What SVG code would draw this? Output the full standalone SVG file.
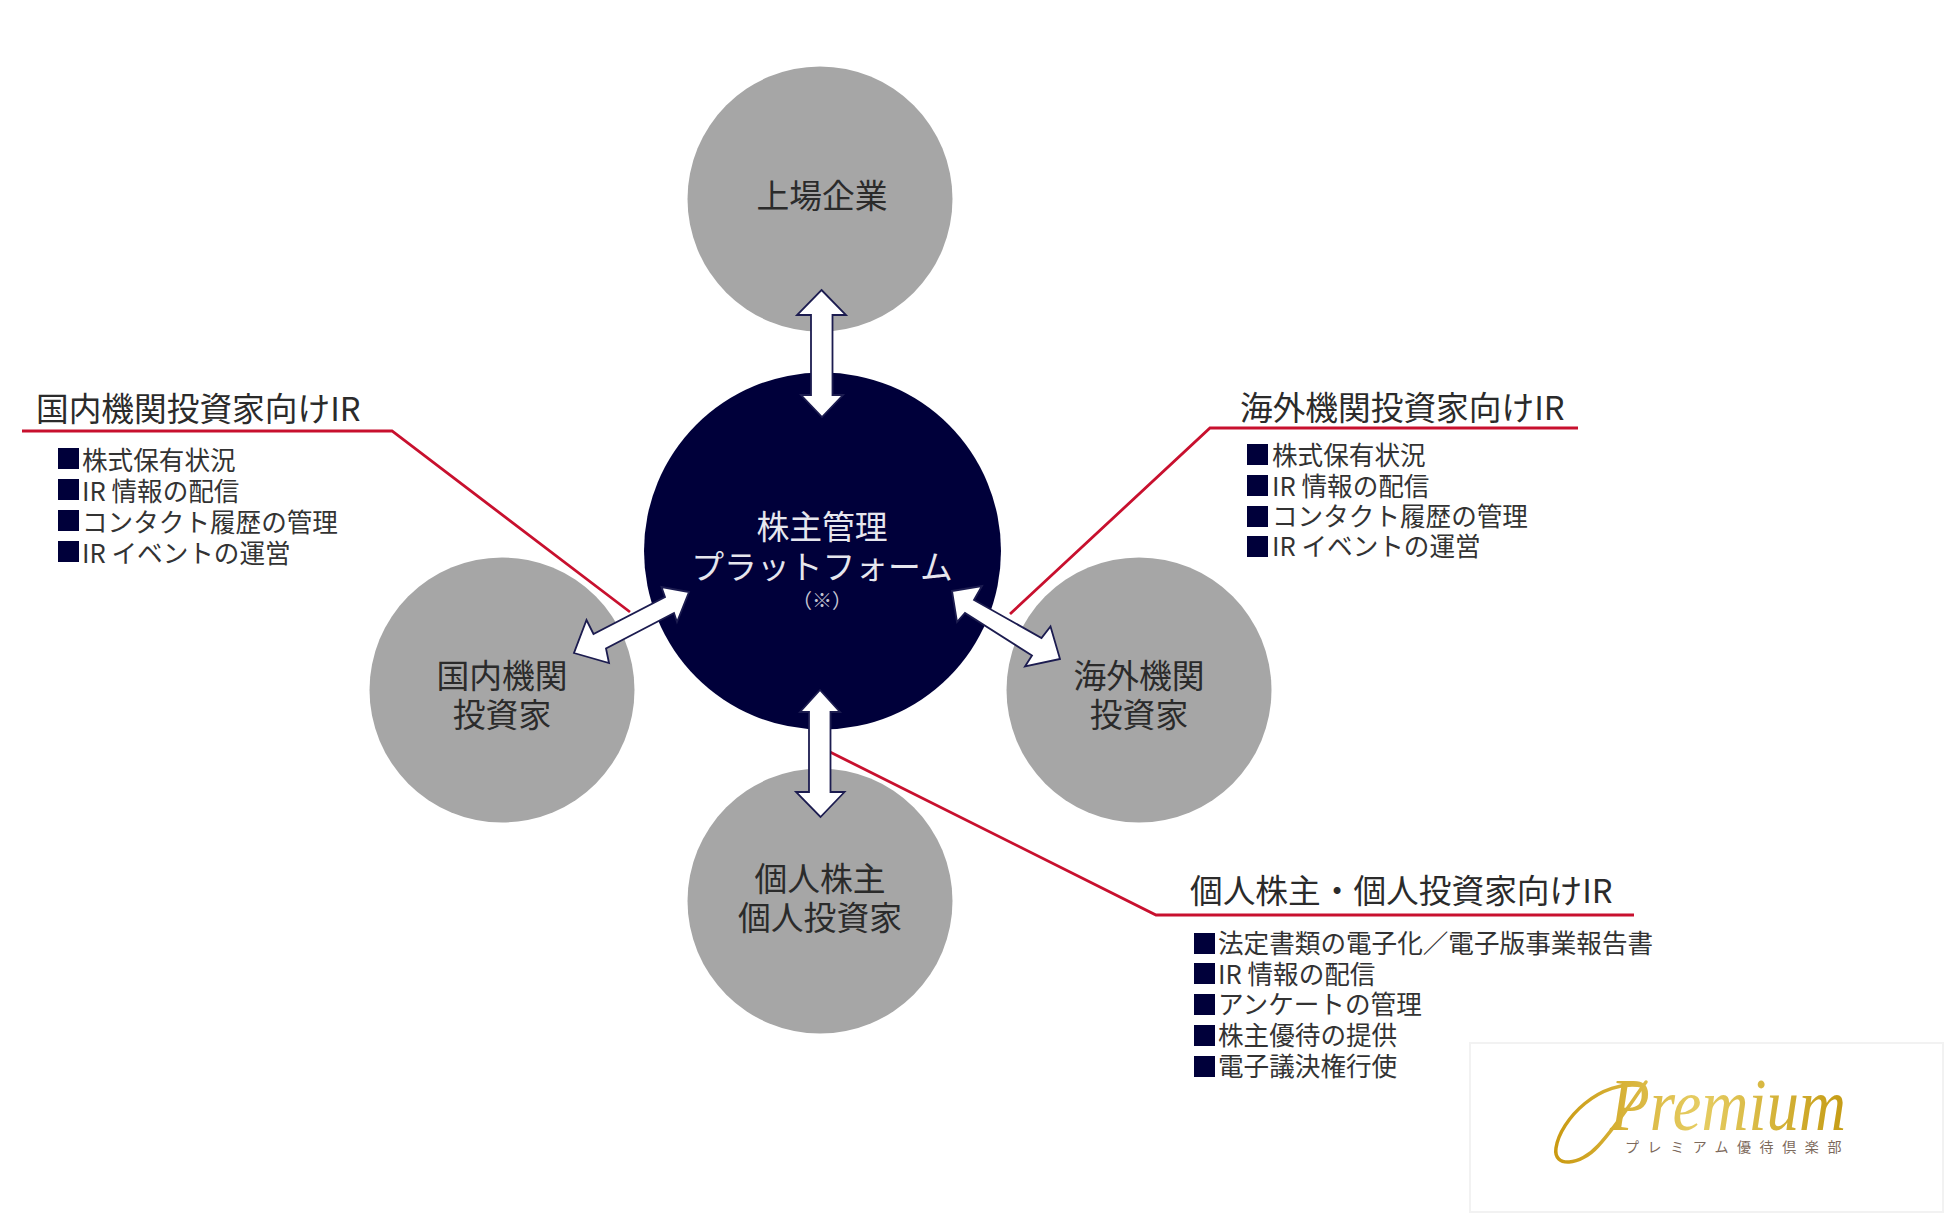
<svg xmlns="http://www.w3.org/2000/svg" width="1950" height="1218" viewBox="0 0 1950 1218">
<style>
text{font-family:"Noto Sans CJK JP","Noto Sans",sans-serif;fill:#2b2b2b}
.sat{fill:#a6a6a6}
.hub{fill:#00003a}
.lab{font-size:32.800px;text-anchor:middle}
.hubt{fill:#e6e6ee}
.note{font-size:20px;text-anchor:middle;fill:#c4c4d2}
.head{font-size:32.700px}
.item{font-size:25.600px;fill:#333}
.sq{fill:#00003a}
.red{fill:none;stroke:#c8102e;stroke-width:2.800}
.arr{fill:#fff;stroke:#1c1c50;stroke-width:1.800;stroke-linejoin:miter}
.brand{font-family:"Liberation Serif",serif;font-style:italic;fill:url(#gold)}
.sub{font-size:14px;letter-spacing:8.600px;fill:#7d6a5c}
</style>
<defs>
<linearGradient id="gold" x1="1550" y1="0" x2="1850" y2="0" gradientUnits="userSpaceOnUse">
<stop offset="0" stop-color="#c9980f"/><stop offset=".5" stop-color="#e6cd63"/><stop offset="1" stop-color="#c49a12"/>
</linearGradient>
</defs>
<rect width="1950" height="1218" fill="#fff"/>
<g id="node-listed"><circle class="sat" cx="820" cy="199" r="132.500"/><text class="lab" x="822" y="208">上場企業</text></g>
<g id="node-domestic"><circle class="sat" cx="502" cy="690" r="132.500"/><text class="lab" x="502" y="688">国内機関</text><text class="lab" x="502" y="727">投資家</text></g>
<g id="node-overseas"><circle class="sat" cx="1139" cy="690" r="132.500"/><text class="lab" x="1139" y="688">海外機関</text><text class="lab" x="1139" y="727">投資家</text></g>
<g id="node-individual"><circle class="sat" cx="820" cy="901" r="132.500"/><text class="lab" x="820" y="891">個人株主</text><text class="lab" x="820" y="930">個人投資家</text></g>
<g id="connectors">
<polyline class="red" points="22,431 392,431 630,612"/>
<polyline class="red" points="1578,428 1210,428 1010,614"/>
<polyline class="red" points="830,752 1156,915 1634,915"/>
</g>
<g id="node-hub"><circle class="hub" cx="822.500" cy="551" r="178.500"/>
<text class="lab hubt" x="822" y="539">株主管理</text><text class="lab hubt" x="822" y="579">プラットフォーム</text><text class="note" x="822" y="608">（※）</text></g>
<g id="arrows">
<polygon class="arr" points="821.500,290 846,315 832.500,315 832.500,395 843,395 822,417 801,395 811,395 811,315 797,315"/>
<polygon class="arr" points="820,690 840,712 830.500,712 830.500,792 844.500,792 820.500,817 796,792 809,792 809,712 800,712"/>
<polygon class="arr" points="689,592 677,622 674,613 606,648.500 609,663 574,653 586.500,620 593.500,634 665,597 661.500,587"/>
<polygon class="arr" points="952,591 982,586 974,600 1041.500,638 1050.500,626.500 1060,659 1025,666.500 1032,655.500 965,613 957,622"/>
</g>
<g id="list-domestic">
<text class="head" x="36" y="421">国内機関投資家向けIR</text>
<rect class="sq" x="58" y="448" width="21" height="21"/><rect class="sq" x="58" y="479" width="21" height="21"/><rect class="sq" x="58" y="510" width="21" height="21"/><rect class="sq" x="58" y="541" width="21" height="21"/>
<text class="item" x="82" y="470">株式保有状況</text><text class="item" x="82" y="501">IR 情報の配信</text><text class="item" x="82" y="532">コンタクト履歴の管理</text><text class="item" x="82" y="563">IR イベントの運営</text>
</g>
<g id="list-overseas">
<text class="head" x="1240" y="420">海外機関投資家向けIR</text>
<rect class="sq" x="1247" y="444" width="21" height="21"/><rect class="sq" x="1247" y="475" width="21" height="21"/><rect class="sq" x="1247" y="506" width="21" height="21"/><rect class="sq" x="1247" y="536" width="21" height="21"/>
<text class="item" x="1272" y="465">株式保有状況</text><text class="item" x="1272" y="496">IR 情報の配信</text><text class="item" x="1272" y="526">コンタクト履歴の管理</text><text class="item" x="1272" y="556">IR イベントの運営</text>
</g>
<g id="list-individual">
<text class="head" x="1190" y="903">個人株主・個人投資家向けIR</text>
<rect class="sq" x="1194" y="933" width="21" height="21"/><rect class="sq" x="1194" y="963" width="21" height="21"/><rect class="sq" x="1194" y="994" width="21" height="21"/><rect class="sq" x="1194" y="1025" width="21" height="21"/><rect class="sq" x="1194" y="1056" width="21" height="21"/>
<text class="item" x="1218" y="953">法定書類の電子化／電子版事業報告書</text><text class="item" x="1218" y="984">IR 情報の配信</text><text class="item" x="1218" y="1014">アンケートの管理</text><text class="item" x="1218" y="1045">株主優待の提供</text><text class="item" x="1218" y="1076">電子議決権行使</text>
</g>
<g id="logo">
<rect x="1470" y="1043" width="473" height="169" fill="#fff" stroke="#f2f2f2" stroke-width="2"/>
<path d="M1643 1086C1600 1078 1560 1120 1556 1148C1553 1168 1580 1166 1598 1146C1618 1124 1634 1098 1646 1082" fill="none" stroke="url(#gold)" stroke-width="3.500" stroke-linecap="round"/>
<text class="brand" x="1610" y="1130" font-size="74" textLength="236" lengthAdjust="spacingAndGlyphs">Premium</text>
<text class="sub" x="1625" y="1152">プレミアム優待倶楽部</text>
</g>
</svg>
